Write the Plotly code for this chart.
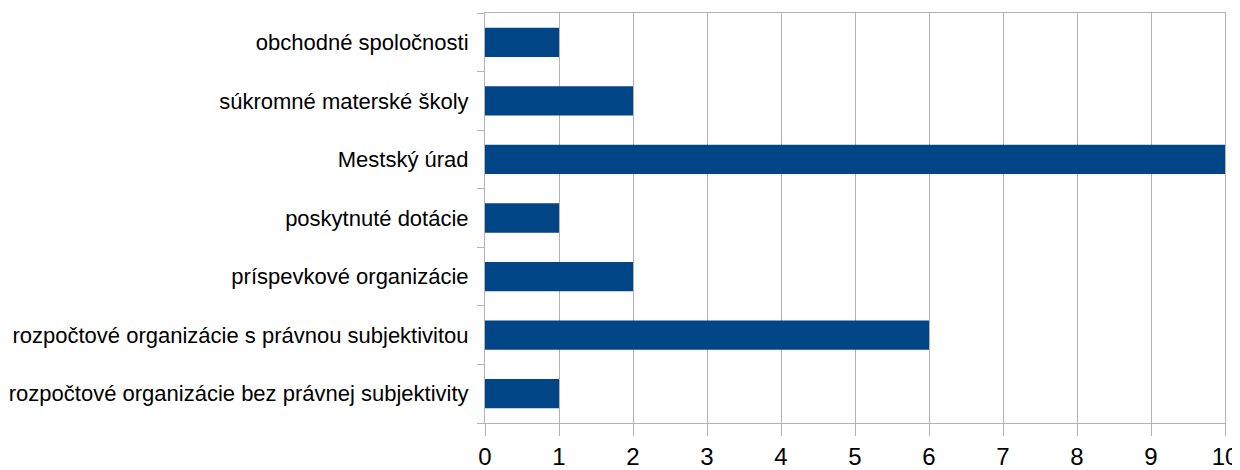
import plotly.graph_objects as go

categories = [
    "rozpočtové organizácie bez právnej subjektivity",
    "rozpočtové organizácie s právnou subjektivitou",
    "príspevkové organizácie",
    "poskytnuté dotácie",
    "Mestský úrad",
    "súkromné materské školy",
    "obchodné spoločnosti",
]
values = [1, 6, 2, 1, 10, 2, 1]
x_ticks = [0, 1, 2, 3, 4, 5, 6, 7, 8, 9, 10]

fig = go.Figure(
    go.Bar(
        y=categories,
        x=values,
        orientation="h",
        marker=dict(color="#004586", line=dict(width=0)),
        width=0.5,
    )
)

fig.update_layout(
    width=1232,
    height=462,
    margin=dict(l=477, r=15, t=5, b=47),
    paper_bgcolor="white",
    plot_bgcolor="white",
    showlegend=False,
    font=dict(family="Liberation Sans, Arial, sans-serif", size=22, color="#000000"),
)

fig.update_xaxes(
    automargin=False,
    range=[0, 10],
    tickmode="array",
    tickvals=x_ticks,
    ticktext=[str(t) for t in x_ticks],
    showgrid=True,
    gridcolor="#b3b3b3",
    gridwidth=1,
    zeroline=False,
    showline=True,
    linecolor="#b3b3b3",
    linewidth=1,
    mirror=True,
    ticks="outside",
    ticklen=12,
    tickcolor="#b3b3b3",
    tickfont=dict(size=24),
    ticklabelstandoff=0,
)

fig.update_yaxes(
    automargin=False,
    type="category",
    categoryorder="array",
    categoryarray=categories,
    range=[-0.5, len(categories) - 0.5],
    showgrid=False,
    zeroline=False,
    showline=True,
    linecolor="#b3b3b3",
    linewidth=1,
    mirror=True,
    ticks="outside",
    tickson="boundaries",
    ticklen=7,
    tickcolor="#b3b3b3",
    tickfont=dict(size=22),
    ticklabelstandoff=11,
)

fig.write_html("out.html")
